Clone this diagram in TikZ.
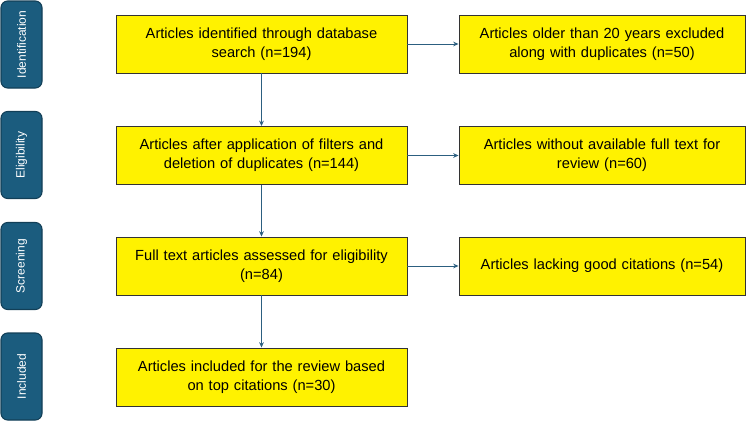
\documentclass[tikz,border=0pt]{standalone}
\usepackage{fontspec}
\setmainfont{Liberation Sans}
\usetikzlibrary{arrows.meta}
\definecolor{teal1}{HTML}{1B5C7E}
\definecolor{teal2}{HTML}{123F57}
\definecolor{arr}{HTML}{2C5F80}
\begin{document}
\begin{tikzpicture}[x=0.75pt,y=-0.75pt,
 stage/.style={draw=teal2,fill=teal1,rounded corners=5pt,line width=0.8pt,minimum width=41*0.75pt,minimum height=87*0.75pt,inner sep=0pt},
 stxt/.style={text=white,font=\fontsize{9}{10}\selectfont,rotate=90},
 box/.style={draw=black!80,fill=yellow,line width=0.7pt,minimum height=58*0.75pt,inner sep=2pt,align=center,font=\fontsize{11}{14}\selectfont},
 mb/.style={box,minimum width=291*0.75pt,text width=280*0.75pt},
 rb/.style={box,minimum width=286*0.75pt,text width=276*0.75pt},
 a/.style={draw=arr,line width=0.7pt,-{Stealth[length=4pt,width=3.5pt]}}]
\useasboundingbox (0,0) rectangle (750,421);
\foreach \n/\t/\y in {s1/Identification/44.5,s2/Eligibility/155,s3/Screening/266,s4/Included/376.5}{
 \node[stage] (\n) at (21.5,\y) {};
 \node[stxt] at (\n) {\t};
}
\node[mb] (m1) at (261.5,44) {Articles identified through database\\search (n=194)};
\node[mb] (m2) at (261.5,155.5) {Articles after application of filters and\\deletion of duplicates (n=144)};
\node[mb] (m3) at (261.5,266) {Full text articles assessed for eligibility\\(n=84)};
\node[mb] (m4) at (261.5,377) {Articles included for the review based\\on top citations (n=30)};
\node[rb] (r1) at (602,44) {Articles older than 20 years excluded\\along with duplicates (n=50)};
\node[rb] (r2) at (602,155.5) {Articles without available full text for\\review (n=60)};
\node[rb] (r3) at (602,266) {Articles lacking good citations (n=54)};
\draw[a] (m1) -- (m2);
\draw[a] (m2) -- (m3);
\draw[a] (m3) -- (m4);
\draw[a] (m1) -- (r1);
\draw[a] (m2) -- (r2);
\draw[a] (m3) -- (r3);
\end{tikzpicture}
\end{document}
